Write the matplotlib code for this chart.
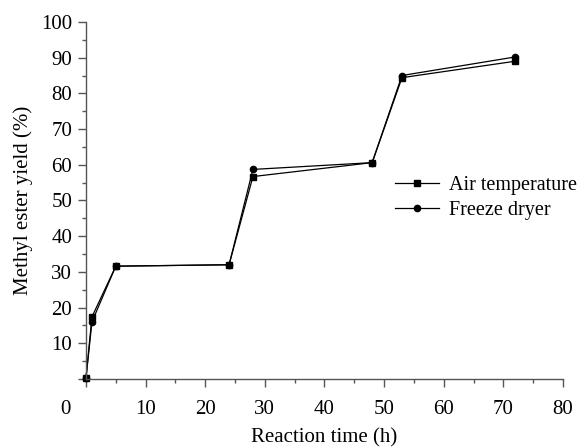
import numpy as np
import matplotlib.pyplot as plt
from matplotlib.ticker import MultipleLocator

# reaction time (h) and methyl ester yield (%)
time_h = [0, 1, 5, 24, 28, 48, 53, 72]
air_temp = [0.3, 17.4, 31.6, 32.0, 56.7, 60.6, 84.4, 89.0]
freeze_dryer = [0.3, 16.0, 31.6, 32.0, 58.7, 60.6, 85.0, 90.2]

xticks = [10, 20, 30, 40, 50, 60, 70, 80]
yticks = [10, 20, 30, 40, 50, 60, 70, 80, 90, 100]

plt.rcParams['font.family'] = ['Liberation Serif', 'DejaVu Serif']
fs = 15

fig = plt.figure(figsize=(5.87, 4.48), dpi=100)
ax = fig.add_axes([0.1465, 0.154, 0.8125, 0.797])

ax.plot(time_h, air_temp, color='black', lw=0.9, marker='s', ms=4,
        label='Air temperature', clip_on=False)
ax.plot(time_h, freeze_dryer, color='black', lw=0.9, marker='o', ms=4.5,
        label='Freeze dryer', clip_on=False)

ax.set_xlim(0, 80)
ax.set_ylim(0, 100)
ax.set_xticks([0] + xticks)
ax.set_xticklabels([''] + [str(t) for t in xticks])
ax.set_yticks([0] + yticks)
ax.set_yticklabels([''] + [str(t) for t in yticks])
ax.xaxis.set_minor_locator(MultipleLocator(5))
ax.yaxis.set_minor_locator(MultipleLocator(5))
ax.tick_params(which='major', direction='out', length=6, width=1,
               color='#555555', labelsize=fs)
ax.tick_params(which='minor', direction='out', length=3, width=1,
               color='#555555')
ax.tick_params(axis='x', pad=9)
ax.tick_params(axis='y', pad=4)

for side in ['top', 'right']:
    ax.spines[side].set_visible(False)
for side in ['left', 'bottom']:
    ax.spines[side].set_color('#555555')
    ax.spines[side].set_linewidth(1)

ax.text(-2.5, -5.8, '0', ha='right', va='top', fontsize=fs,
        transform=ax.transData)

ax.set_xlabel('Reaction time (h)', fontsize=fs, labelpad=7)
ax.set_ylabel('Methyl ester yield (%)', fontsize=fs, labelpad=6)

ax.legend(loc='center left', bbox_to_anchor=(0.648, 0.507), frameon=False,
          fontsize=14.5, handlelength=2.2, handletextpad=0.5,
          labelspacing=0.3, borderpad=0, borderaxespad=0)

fig.savefig('out.png', dpi=100)
